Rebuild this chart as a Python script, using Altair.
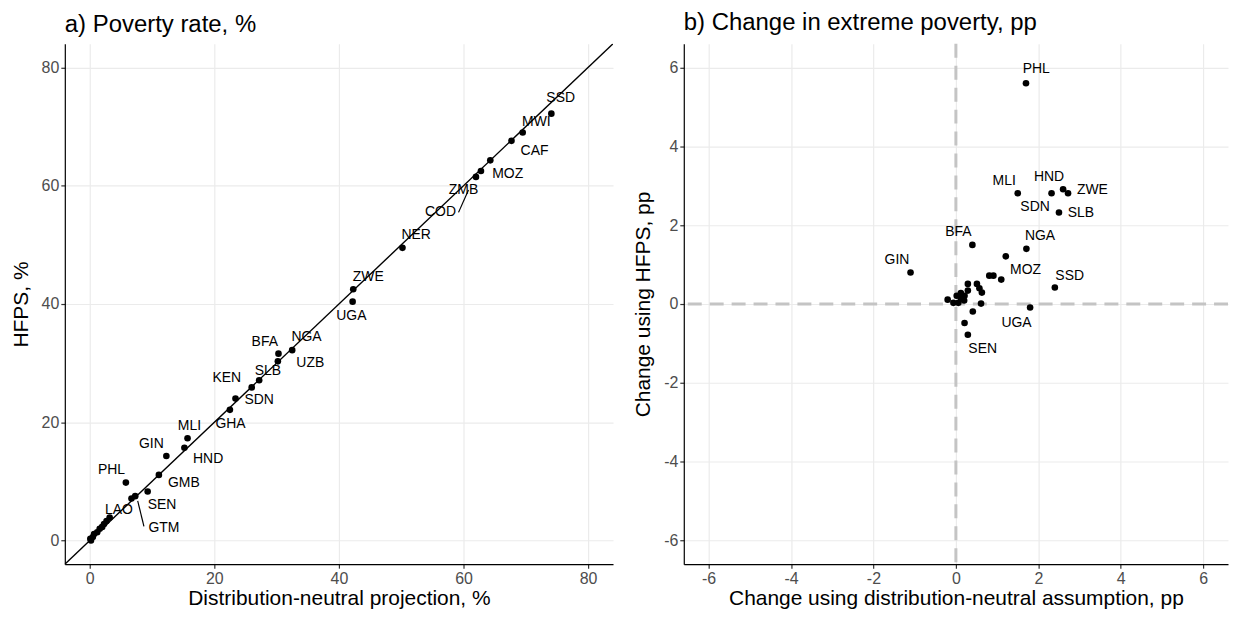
import pandas as pd
import altair as alt

FONT = "Liberation Sans"

# a) Poverty rate, % : distribution-neutral projection vs HFPS
pov_code = ["SSD", "MWI", "CAF", "MOZ", "ZMB", "COD", "NER", "ZWE", "UGA", "NGA",
            "BFA", "UZB", "SLB", "SDN", "KEN", "GHA", "MLI", "HND", "GIN", "GMB",
            "SEN", "PHL", "GTM", "LAO", "", "", "", "", "", "", "", "", "", ""]
pov_dn = [74.1, 69.5, 67.7, 64.3, 62.8, 62.0, 50.2, 42.3, 42.2, 32.5,
          30.3, 30.2, 27.2, 26.0, 23.4, 22.5, 15.7, 15.2, 12.3, 11.1,
          9.3, 5.8, 7.3, 6.7, 3.2, 2.7, 2.3, 2.0, 1.6, 1.2, 0.7, 0.5, 0.1, 0.2]
pov_hfps = [72.2, 69.0, 67.6, 64.3, 62.5, 61.5, 49.5, 42.5, 40.4, 32.2,
            31.6, 30.3, 27.1, 25.9, 24.0, 22.1, 17.3, 15.7, 14.3, 11.1,
            8.3, 9.8, 7.5, 7.1, 3.9, 3.3, 2.8, 2.3, 2.0, 1.4, 1.1, 0.6, 0.3, 0.0]

# label positions (repelled) for panel a
pov_lab = ["SSD", "MWI", "CAF", "MOZ", "ZMB", "COD", "NER", "ZWE", "UGA", "NGA",
           "BFA", "UZB", "SLB", "KEN", "SDN", "GHA", "MLI", "HND", "GIN", "PHL",
           "GMB", "SEN", "LAO", "GTM"]
pov_lab_x = [75.6, 71.7, 71.4, 67.1, 60.0, 56.3, 52.4, 44.7, 42.0, 34.8,
             28.1, 35.4, 28.6, 22.0, 27.2, 22.6, 16.0, 19.0, 9.9, 3.5,
             15.1, 11.6, 4.7, 11.9]
pov_lab_y = [74.9, 70.8, 65.9, 62.0, 59.2, 55.5, 51.7, 44.6, 38.0, 34.5,
             33.6, 30.0, 28.6, 27.5, 23.7, 19.7, 19.4, 13.7, 16.4, 11.9,
             9.8, 6.0, 5.2, 2.1]

# leader segments (COD, GTM)
seg_x = [59.2, 7.7]
seg_y = [55.5, 6.7]
seg_x2 = [60.8, 8.7]
seg_y2 = [59.3, 2.4]

diag = [-4, 84]

# b) Change in extreme poverty, pp
chg_dn = [1.70, 1.50, 2.32, 2.60, 2.72, 2.50, 0.40, 1.71, 1.21, -1.10,
          0.81, 0.91, 1.10, 2.40, 1.80, 0.29, 0.61, 0.41, 0.21, 0.29,
          0.51, 0.57, 0.63, 0.29, 0.12, 0.02, 0.21, -0.20, -0.06, 0.06,
          0.20, 0.12]
chg_hfps = [5.60, 2.81, 2.81, 2.91, 2.81, 2.32, 1.50, 1.40, 1.21, 0.80,
            0.72, 0.72, 0.62, 0.42, -0.09, -0.78, 0.01, -0.19, -0.48, 0.51,
            0.51, 0.40, 0.29, 0.34, 0.28, 0.21, 0.21, 0.11, 0.03, 0.03,
            0.09, 0.15]

chg_lab = ["PHL", "MLI", "HND", "ZWE", "SDN", "SLB", "BFA", "NGA", "GIN", "MOZ",
           "SSD", "UGA", "SEN"]
chg_lab_x = [1.95, 1.17, 2.26, 3.31, 1.92, 3.03, 0.06, 2.04, -1.43, 1.69,
             2.76, 1.47, 0.65]
chg_lab_y = [5.95, 3.12, 3.23, 2.89, 2.45, 2.32, 1.82, 1.73, 1.12, 0.85,
             0.72, -0.47, -1.14]

pov = pd.DataFrame({"dn": pov_dn, "hfps": pov_hfps, "code": pov_code})
pov_labels = pd.DataFrame({"x": pov_lab_x, "y": pov_lab_y, "code": pov_lab})
segs = pd.DataFrame({"x": seg_x, "y": seg_y, "x2": seg_x2, "y2": seg_y2})
diag_df = pd.DataFrame({"x": diag, "y": diag})

chg = pd.DataFrame({"dn": chg_dn, "hfps": chg_hfps})
chg_labels = pd.DataFrame({"x": chg_lab_x, "y": chg_lab_y, "code": chg_lab})
zero = pd.DataFrame({"v": [0]})


def axis(values, title, pad):
    return alt.Axis(values=values, title=title, titlePadding=pad,
                    labelExpr="'' + datum.value")


def panel_title(text):
    return alt.TitleParams(text, anchor="start", frame="group", fontSize=24,
                           font=FONT, fontWeight="normal", offset=7)


# ---- panel a
xa = alt.Scale(domain=[-4, 84], nice=False, zero=False)
ya = alt.Scale(domain=[-4, 84], nice=False, zero=False)

base_a = alt.Chart(pov).encode(
    x=alt.X("dn:Q", scale=xa, axis=axis([0, 20, 40, 60, 80], "Distribution-neutral projection, %", 1)),
    y=alt.Y("hfps:Q", scale=ya, axis=axis([0, 20, 40, 60, 80], "HFPS, %", 10)),
)
line_a = alt.Chart(diag_df).mark_line(color="black", strokeWidth=1.4, clip=True).encode(
    x=alt.X("x:Q", scale=xa), y=alt.Y("y:Q", scale=ya))
pts_a = base_a.mark_circle(size=44, color="black", opacity=1)
seg_a = alt.Chart(segs).mark_rule(color="black", strokeWidth=1.2).encode(
    x=alt.X("x:Q", scale=xa), y=alt.Y("y:Q", scale=ya), x2="x2:Q", y2="y2:Q")
txt_a = alt.Chart(pov_labels).mark_text(font=FONT, fontSize=14, color="black").encode(
    x=alt.X("x:Q", scale=xa), y=alt.Y("y:Q", scale=ya), text="code:N")

panel_a = alt.layer(line_a, pts_a, seg_a, txt_a).properties(
    width=550, height=522, title=panel_title("a) Poverty rate, %"))

# ---- panel b
xb = alt.Scale(domain=[-6.6, 6.6], nice=False, zero=False)
yb = alt.Scale(domain=[-6.6, 6.6], nice=False, zero=False)
ticks_b = [-6, -4, -2, 0, 2, 4, 6]

vline = alt.Chart(zero).mark_rule(color="#c4c4c4", strokeWidth=3, strokeDash=[14, 8]).encode(
    x=alt.X("v:Q", scale=xb))
hline = alt.Chart(zero).mark_rule(color="#c4c4c4", strokeWidth=3, strokeDash=[14, 8]).encode(
    y=alt.Y("v:Q", scale=yb))
pts_b = alt.Chart(chg).mark_circle(size=44, color="black", opacity=1).encode(
    x=alt.X("dn:Q", scale=xb, axis=axis(ticks_b, "Change using distribution-neutral assumption, pp", 1)),
    y=alt.Y("hfps:Q", scale=yb, axis=axis(ticks_b, "Change using HFPS, pp", 10)),
)
txt_b = alt.Chart(chg_labels).mark_text(font=FONT, fontSize=14, color="black").encode(
    x=alt.X("x:Q", scale=xb), y=alt.Y("y:Q", scale=yb), text="code:N")

panel_b = alt.layer(vline, hline, pts_b, txt_b).properties(
    width=546, height=522, title=panel_title("b) Change in extreme poverty, pp"))

chart = alt.hconcat(panel_a, panel_b, spacing=19).properties(
    padding={"left": 2, "top": 2, "right": 0, "bottom": 0}
).configure_view(
    stroke=None
).configure_axis(
    domainColor="black", domainWidth=1.2,
    tickColor="#333333", tickSize=4, tickWidth=1.2,
    labelColor="#4d4d4d", labelFontSize=16, labelFont=FONT, labelPadding=2,
    titleColor="black", titleFontSize=21, titleFont=FONT, titleFontWeight="normal",
    gridColor="#ebebeb", gridWidth=1.2,
)

chart.save("out.html", embed_options={"renderer": "svg", "actions": False})
